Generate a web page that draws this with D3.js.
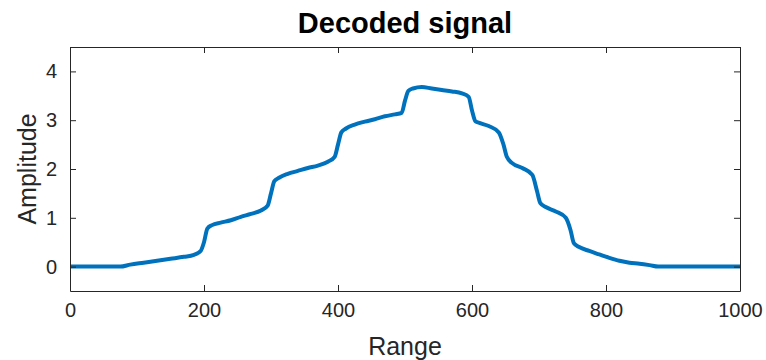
<!DOCTYPE html>
<html>
<head>
<meta charset="utf-8">
<script src="https://cdn.jsdelivr.net/npm/d3@7"></script>
<style>
  body { margin: 0; background: #fff; }
  text { font-family: "Liberation Sans", Arial, Helvetica, sans-serif; fill: #262626; }
  .title { font-weight: bold; fill: #000; }
</style>
</head>
<body>
<svg id="chart"></svg>
<script>
var width = 766;
var height = 360;

// decoded signal
var range = [0, 50, 75, 90, 110, 130, 150, 170, 185, 195, 200, 205, 212, 225, 240, 255, 270, 285, 295,
  300, 305, 312, 325, 340, 355, 370, 385, 395, 400, 405, 412, 425, 440, 455, 470, 485, 495,
  500, 505, 512, 525, 540, 555, 570, 585, 595, 600, 605, 612, 625, 640, 647, 652, 660, 675,
  690, 697, 702, 710, 725, 740, 747, 752, 760, 775, 790, 805, 820, 835, 850, 865, 878, 900, 950, 1000];
var amplitude = [0, 0, 0, 0.04, 0.08, 0.12, 0.16, 0.2, 0.24, 0.32, 0.5, 0.78, 0.85, 0.9, 0.95, 1.02, 1.08, 1.15, 1.25,
  1.5, 1.75, 1.82, 1.9, 1.96, 2.02, 2.07, 2.15, 2.25, 2.5, 2.75, 2.83, 2.91, 2.97, 3.02, 3.08, 3.12, 3.15,
  3.4, 3.6, 3.65, 3.68, 3.65, 3.62, 3.59, 3.55, 3.48, 3.2, 2.98, 2.94, 2.88, 2.75, 2.5, 2.25, 2.12, 2.02,
  1.88, 1.55, 1.3, 1.22, 1.13, 1.0, 0.75, 0.48, 0.4, 0.32, 0.25, 0.18, 0.12, 0.08, 0.06, 0.03, 0, 0, 0, 0];

var xTicks = [0, 200, 400, 600, 800, 1000];
var yTicks = [0, 1, 2, 3, 4];

var margin = {top: 47, right: 26, bottom: 69, left: 70};
var w = width - margin.left - margin.right;
var h = height - margin.top - margin.bottom;

var svg = d3.select("#chart")
    .attr("width", width)
    .attr("height", height);

var x = d3.scaleLinear().domain([0, 1000]).range([0, w]);
var y = d3.scaleLinear().domain([-0.5, 4.5]).range([h, 0]);

var g = svg.append("g")
    .attr("transform", "translate(" + margin.left + "," + margin.top + ")");

// Line

var data = range.map(function(d, i) { return [d, amplitude[i]]; });

var line = d3.line()
    .x(function(d) { return x(d[0]); })
    .y(function(d) { return y(d[1]); })
    .curve(d3.curveMonotoneX);

g.append("path")
    .datum(data)
    .attr("d", line)
    .attr("fill", "none")
    .attr("stroke", "#0072BD")
    .attr("stroke-width", 4)
    .attr("stroke-linejoin", "round");

// Axes (box with inward ticks)

function styleAxis(sel) {
  sel.select(".domain").attr("stroke", "#262626");
  sel.selectAll(".tick line").attr("stroke", "#262626");
  sel.selectAll("text").style("font-size", "20px").attr("fill", "#262626");
}

g.append("g")
    .attr("transform", "translate(0," + h + ")")
    .call(d3.axisBottom(x).tickValues(xTicks).tickFormat(d3.format("d")).tickSizeInner(-6).tickSizeOuter(0).tickPadding(12))
    .call(styleAxis);

g.append("g")
    .call(d3.axisTop(x).tickValues(xTicks).tickSizeInner(-6).tickSizeOuter(0).tickFormat(""))
    .call(styleAxis);

g.append("g")
    .call(d3.axisLeft(y).tickValues(yTicks).tickFormat(d3.format("d")).tickSizeInner(-6).tickSizeOuter(0).tickPadding(13))
    .call(styleAxis);

g.append("g")
    .attr("transform", "translate(" + w + ",0)")
    .call(d3.axisRight(y).tickValues(yTicks).tickSizeInner(-6).tickSizeOuter(0).tickFormat(""))
    .call(styleAxis);

// Texts

svg.append("text")
    .attr("class", "title")
    .attr("x", margin.left + w / 2)
    .attr("y", 33)
    .attr("text-anchor", "middle")
    .style("font-size", "29px")
    .text("Decoded signal");

svg.append("text")
    .attr("x", margin.left + w / 2)
    .attr("y", 355)
    .attr("text-anchor", "middle")
    .style("font-size", "25px")
    .text("Range");

svg.append("text")
    .attr("transform", "translate(36," + (margin.top + h / 2) + ") rotate(-90)")
    .attr("text-anchor", "middle")
    .style("font-size", "25px")
    .text("Amplitude");
</script>
</body>
</html>
